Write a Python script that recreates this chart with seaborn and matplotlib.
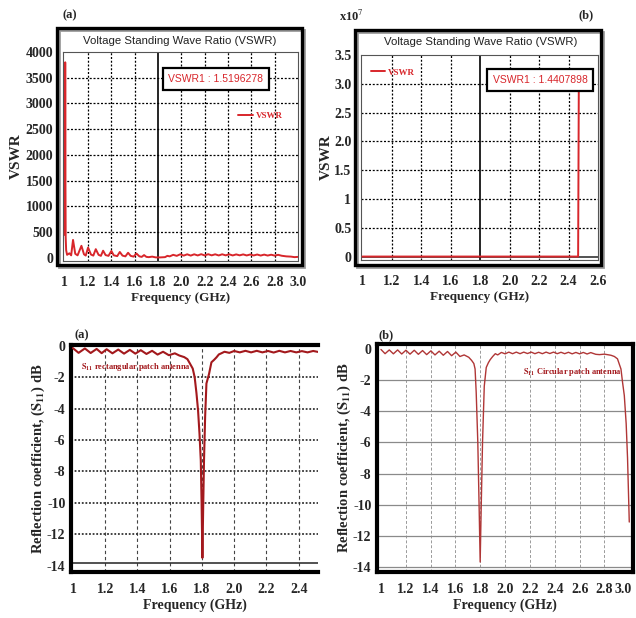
import matplotlib
matplotlib.use('Agg')
import matplotlib.pyplot as plt
import matplotlib.transforms as mtransforms
import seaborn as sns
from matplotlib.patches import Rectangle

# ---- data ----
# (a) VSWR, rectangular patch
freq_vswr_a = [1.000, 1.002, 1.004, 1.006, 1.008, 1.012, 1.020, 1.040, 1.055, 1.071, 1.090, 1.110,
               1.143, 1.165, 1.180, 1.200, 1.225, 1.245, 1.266, 1.290, 1.310, 1.329, 1.350, 1.375,
               1.400, 1.420, 1.450, 1.472, 1.495, 1.520, 1.543, 1.565, 1.590, 1.615, 1.640, 1.660,
               1.680, 1.700, 1.720, 1.750, 1.780, 1.820, 1.860, 1.880, 1.900, 1.930, 1.960, 1.990,
               2.020, 2.050, 2.080, 2.110, 2.140, 2.170, 2.200, 2.230, 2.260, 2.290, 2.320, 2.350,
               2.380, 2.410, 2.440, 2.470, 2.500, 2.530, 2.560, 2.590, 2.620, 2.650, 2.680, 2.710,
               2.740, 2.770, 2.800, 2.830, 2.860, 2.900, 2.940, 2.970, 3.000]
vswr_a = [450, 800, 3800, 1500, 400, 150, 60, 90, 50, 350, 80, 50,
          235, 70, 45, 200, 65, 45, 170, 60, 40, 140, 55, 40,
          135, 50, 35, 115, 45, 30, 100, 40, 25, 85, 30, 20,
          55, 20, 15, 25, 10, 10, 15, 40, 30, 60, 40, 70,
          45, 70, 45, 70, 48, 72, 48, 72, 50, 70, 48, 70,
          50, 70, 48, 68, 50, 68, 48, 66, 48, 66, 46, 64,
          46, 62, 45, 60, 42, 30, 25, 15, 20]

# (b) VSWR, circular patch (spike at 2.47 GHz)
freq_vswr_b = [1.0, 1.2, 1.4, 1.6, 1.8, 2.0, 2.2, 2.4, 2.465, 2.47]
vswr_b = [2.1, 1.8, 1.6, 1.9, 1.44, 1.7, 2.0, 2.6, 4.0, 3.2e7]

# (a) S11, rectangular patch
freq_s11_rect = [1.000, 1.035, 1.074, 1.110, 1.147, 1.178, 1.209, 1.245, 1.281, 1.317, 1.353,
                 1.387, 1.421, 1.456, 1.491, 1.525, 1.559, 1.595, 1.632, 1.660, 1.690, 1.710,
                 1.724, 1.743, 1.755, 1.766, 1.776, 1.785, 1.793, 1.798, 1.803, 1.808, 1.813,
                 1.820, 1.828, 1.844, 1.859, 1.875, 1.890, 1.905, 1.920, 1.940, 1.970, 2.000,
                 2.035, 2.070, 2.105, 2.140, 2.175, 2.210, 2.245, 2.280, 2.315, 2.350, 2.385,
                 2.420, 2.455, 2.490, 2.525]
s11_rect = [-0.15, -0.45, -0.17, -0.46, -0.20, -0.47, -0.22, -0.48, -0.24, -0.50, -0.26,
            -0.50, -0.28, -0.52, -0.32, -0.56, -0.38, -0.60, -0.48, -0.62, -0.72, -0.85,
            -1.10, -1.45, -2.0, -3.0, -4.1, -5.6, -7.3, -10.0, -13.5, -10.2, -7.3,
            -4.5, -2.4, -1.8, -1.05, -0.90, -0.74, -0.55, -0.48, -0.38, -0.45, -0.33,
            -0.42, -0.32, -0.42, -0.32, -0.42, -0.33, -0.43, -0.32, -0.42, -0.33, -0.42,
            -0.34, -0.42, -0.33, -0.40]

# (b) S11, circular patch
freq_s11_circ = [1.000, 1.033, 1.067, 1.100, 1.134, 1.167, 1.201, 1.234, 1.268, 1.301, 1.335,
                 1.368, 1.402, 1.435, 1.469, 1.502, 1.536, 1.569, 1.603, 1.636, 1.670, 1.707,
                 1.730, 1.748, 1.758, 1.767, 1.780, 1.791, 1.799, 1.807, 1.818, 1.832, 1.848,
                 1.865, 1.880, 1.900, 1.921, 1.940, 1.970, 2.000, 2.030, 2.060, 2.090, 2.120,
                 2.150, 2.180, 2.210, 2.240, 2.270, 2.300, 2.330, 2.360, 2.390, 2.420, 2.450,
                 2.480, 2.510, 2.540, 2.570, 2.600, 2.630, 2.660, 2.690, 2.730, 2.760, 2.800,
                 2.852, 2.880, 2.905, 2.920, 2.933, 2.945, 2.960, 2.975, 2.986, 3.000]
s11_circ = [-0.05, -0.32, -0.08, -0.33, -0.08, -0.34, -0.10, -0.35, -0.10, -0.36, -0.12,
            -0.38, -0.14, -0.40, -0.16, -0.42, -0.18, -0.45, -0.22, -0.50, -0.40, -0.55,
            -0.75, -0.95, -1.30, -2.8, -6.0, -10.3, -13.66, -10.3, -6.0, -2.4, -1.2,
            -0.90, -0.70, -0.50, -0.32, -0.40, -0.24, -0.33, -0.22, -0.32, -0.22, -0.32,
            -0.22, -0.31, -0.22, -0.32, -0.23, -0.32, -0.22, -0.31, -0.22, -0.32, -0.23,
            -0.32, -0.23, -0.33, -0.24, -0.33, -0.24, -0.34, -0.25, -0.36, -0.38, -0.35,
            -0.42, -0.50, -0.65, -1.0, -1.3, -2.1, -3.0, -4.8, -7.0, -11.1]

# ticks
xt_vswr_a = [1.0, 1.2, 1.4, 1.6, 1.8, 2.0, 2.2, 2.4, 2.6, 2.8, 3.0]
xl_vswr_a = ['1', '1.2', '1.4', '1.6', '1.8', '2.0', '2.2', '2.4', '2.6', '2.8', '3.0']
yt_vswr_a = [0, 500, 1000, 1500, 2000, 2500, 3000, 3500, 4000]
xt_vswr_b = [1.0, 1.2, 1.4, 1.6, 1.8, 2.0, 2.2, 2.4, 2.6]
xl_vswr_b = ['1', '1.2', '1.4', '1.6', '1.8', '2.0', '2.2', '2.4', '2.6']
yt_vswr_b = [0, 0.5e7, 1.0e7, 1.5e7, 2.0e7, 2.5e7, 3.0e7, 3.5e7]
yl_vswr_b = ['0', '0.5', '1', '1.5', '2.0', '2.5', '3.0', '3.5']
xt_s11_a = [1.0, 1.2, 1.4, 1.6, 1.8, 2.0, 2.2, 2.4]
xl_s11_a = ['1', '1.2', '1.4', '1.6', '1.8', '2.0', '2.2', '2.4']
xt_s11_b = [1.0, 1.2, 1.4, 1.6, 1.8, 2.0, 2.2, 2.4, 2.6, 2.8, 3.0]
xl_s11_b = ['1', '1.2', '1.4', '1.6', '1.8', '2.0', '2.2', '2.4', '2.6', '2.8', '3.0']
yt_s11 = [0, -2, -4, -6, -8, -10, -12, -14]

sns.set_style('white')
plt.rcParams['font.family'] = ['Liberation Serif', 'DejaVu Serif']
plt.rcParams['mathtext.fontset'] = 'stix'

W, H = 636, 618
RED = '#d8262b'
DARKRED = '#a3191d'
SERIF = 'Liberation Serif'
SANS = 'Liberation Sans'

fig = plt.figure(figsize=(W / 100, H / 100), dpi=100)
fig.patch.set_facecolor('white')


def px_axes(x0, y0, x1, y1):
    return fig.add_axes([x0 / W, 1 - y1 / H, (x1 - x0) / W, (y1 - y0) / H])


def ftext(x, y, s, **kw):
    fig.text(x / W, 1 - y / H, s, **kw)


def frame(x0, y0, x1, y1):
    fig.add_artist(Rectangle((x0 / W + 0.003, 1 - y1 / H - 0.004), (x1 - x0) / W, (y1 - y0) / H,
                             transform=fig.transFigure, fill=False, ec='#9a9a9a', lw=2.0))
    fig.add_artist(Rectangle((x0 / W, 1 - y1 / H), (x1 - x0) / W, (y1 - y0) / H,
                             transform=fig.transFigure, fill=False, ec='black', lw=2.4))


def style_ticks(ax, xt, xl, yt, yl, size, xpad, ypad):
    ax.set_xticks(xt)
    ax.set_xticklabels(xl)
    ax.set_yticks(yt)
    ax.set_yticklabels(yl)
    ax.tick_params(length=0, labelsize=size)
    ax.tick_params(axis='x', pad=xpad)
    ax.tick_params(axis='y', pad=ypad)
    for lab in ax.get_xticklabels() + ax.get_yticklabels():
        lab.set_fontweight('bold')
        lab.set_fontfamily(SERIF)


dotted = dict(color='black', lw=0.9, ls=(0, (1.6, 1.4)), zorder=1)

# ---------------- top left: VSWR (a) ----------------
frame(57, 28, 302, 265)
ax1 = px_axes(63, 52, 298, 261)
sns.lineplot(x=freq_vswr_a, y=vswr_a, ax=ax1, color=RED, lw=1.4, sort=False, estimator=None,
             label='VSWR', zorder=3)
ax1.set_xlim(0.985, 3.0)
ax1.set_ylim(-60, 4000)
for v in [1.2, 1.4, 1.6, 2.0, 2.2, 2.4, 2.6, 2.8]:
    ax1.axvline(v, **dotted)
for v in yt_vswr_a[1:-1]:
    ax1.axhline(v, **dotted)
ax1.axvline(1.8, color='black', lw=1.2, zorder=2)
style_ticks(ax1, xt_vswr_a, xl_vswr_a, yt_vswr_a, [str(v) for v in yt_vswr_a], 10, 11, 7)
for s in ax1.spines.values():
    s.set_color('#555555')
    s.set_linewidth(0.8)
ax1.set_xlabel('Frequency (GHz)', fontsize=9.5, fontweight='bold', labelpad=2)
ax1.set_ylabel('VSWR', fontsize=11, fontweight='bold', labelpad=2)
ax1.text(0.651, 0.871, 'VSWR1 : 1.5196278', transform=ax1.transAxes, ha='center', va='center',
         fontsize=7.5, color=RED, family=SANS, zorder=6,
         bbox=dict(boxstyle='square,pad=0.55', fc='white', ec='black', lw=1.6))
leg = ax1.legend(loc='center', bbox_to_anchor=(0.84, 0.695), frameon=False, handlelength=1.6,
                 handletextpad=0.3, prop={'family': SERIF, 'weight': 'bold', 'size': 6.5})
for t in leg.get_texts():
    t.set_color(RED)
ftext(180, 41, 'Voltage Standing Wave Ratio (VSWR)', ha='center', va='center', fontsize=8.2,
      family=SANS, color='#222222')
ftext(70, 15, '(a)', ha='center', va='center', fontsize=9, fontweight='bold')

# ---------------- top right: VSWR (b) ----------------
frame(355, 30, 601, 265)
ax2 = px_axes(361, 55, 598, 260)
ax2.axhline(0, color='#444444', lw=1.3, zorder=2)
sns.lineplot(x=freq_vswr_b, y=vswr_b, ax=ax2, color=RED, lw=1.4, sort=False, estimator=None,
             label='VSWR', zorder=3)
ax2.set_xlim(0.99, 2.6)
ax2.set_ylim(-0.06e7, 3.5e7)
for v in [1.2, 1.4, 1.6, 2.0, 2.2, 2.4]:
    ax2.axvline(v, **dotted)
for v in yt_vswr_b[1:-1]:
    ax2.axhline(v, **dotted)
ax2.axvline(1.8, color='black', lw=1.2, zorder=2)
style_ticks(ax2, xt_vswr_b, xl_vswr_b, yt_vswr_b, yl_vswr_b, 10, 11, 7)
for s in ax2.spines.values():
    s.set_color('#555555')
    s.set_linewidth(0.8)
ax2.set_xlabel('Frequency (GHz)', fontsize=9.5, fontweight='bold', labelpad=2)
ax2.set_ylabel('VSWR', fontsize=11, fontweight='bold', labelpad=1)
ax2.text(0.756, 0.878, 'VSWR1 : 1.4407898', transform=ax2.transAxes, ha='center', va='center',
         fontsize=7.5, color=RED, family=SANS, zorder=6,
         bbox=dict(boxstyle='square,pad=0.55', fc='white', ec='black', lw=1.6))
leg = ax2.legend(loc='center', bbox_to_anchor=(0.135, 0.915), frameon=False, handlelength=1.6,
                 handletextpad=0.3, prop={'family': SERIF, 'weight': 'bold', 'size': 6.5})
for t in leg.get_texts():
    t.set_color(RED)
ftext(481, 42, 'Voltage Standing Wave Ratio (VSWR)', ha='center', va='center', fontsize=8.2,
      family=SANS, color='#222222')
ftext(351, 16, 'x10$^{7}$', ha='center', va='center', fontsize=9, fontweight='bold')
ftext(586, 15, '(b)', ha='center', va='center', fontsize=9, fontweight='bold')

# ---------------- bottom left: S11 (a) ----------------
ax3 = px_axes(71, 345, 318, 572)
sns.lineplot(x=freq_s11_rect, y=s11_rect, ax=ax3, color=DARKRED, lw=1.5, sort=False,
             estimator=None, zorder=3)
ax3.set_xlim(0.988, 2.52)
ax3.set_ylim(-14.4, 0.05)
for v in [1.2, 1.4, 1.6, 1.8, 2.0, 2.2, 2.4]:
    ax3.axvline(v, color='#444444', lw=0.8, ls=(0, (3, 2.5)), zorder=1)
for v in [-2, -4, -6, -8, -10, -12]:
    ax3.axhline(v, color='#333333', lw=1.3, ls=(0, (1, 1)), zorder=1)
ax3.axhline(-13.8, color='#333333', lw=1.2, zorder=1)
style_ticks(ax3, xt_s11_a, xl_s11_a, yt_s11, [str(v) for v in yt_s11], 10, 8, 4)
for k, s in ax3.spines.items():
    s.set_color('black')
    s.set_linewidth(3)
ax3.spines['right'].set_visible(False)
ax3.set_xlabel('Frequency (GHz)', fontsize=10, fontweight='bold', labelpad=2)
ax3.set_ylabel(r'Reflection coefficient, ($\mathbf{S_{11}}$) dB', fontsize=10.5,
               fontweight='bold', labelpad=0)
ax3.text(0.04, 0.905, r'$\mathbf{S_{11}}$ rectangular patch antenna', transform=ax3.transAxes,
         fontsize=6, fontweight='bold', color=DARKRED, va='center')
ftext(82, 335, '(a)', ha='center', va='center', fontsize=9, fontweight='bold')

# ---------------- bottom right: S11 (b) ----------------
ax4 = px_axes(377, 344, 633, 572)
sns.lineplot(x=freq_s11_circ, y=s11_circ, ax=ax4, color='#b03636', lw=1.0, sort=False,
             estimator=None, zorder=3)
ax4.set_xlim(0.968, 3.03)
ax4.set_ylim(-14.3, 0.3)
for v in [1.2, 1.4, 1.6, 1.8, 2.0, 2.2, 2.4, 2.6, 2.8]:
    ax4.axvline(v, color='#9a9a9a', lw=0.7, ls=(0, (3, 2)), zorder=1)
for v in [-2, -4, -6, -8, -10, -12, -14]:
    ax4.axhline(v, color='#8a8a8a', lw=0.9, zorder=1)
style_ticks(ax4, xt_s11_b, xl_s11_b, yt_s11, [str(v) for v in yt_s11], 10, 8, 4)
for s in ax4.spines.values():
    s.set_color('black')
    s.set_linewidth(3)
# nudge the last tick label ("3.0") left so it stays inside the picture
last = ax4.get_xticklabels()[-1]
last.set_transform(last.get_transform() +
                   mtransforms.ScaledTranslation(-0.06, 0, fig.dpi_scale_trans))
ax4.set_xlabel('Frequency (GHz)', fontsize=10, fontweight='bold', labelpad=2)
ax4.set_ylabel(r'Reflection coefficient, ($\mathbf{S_{11}}$) dB', fontsize=10.5,
               fontweight='bold', labelpad=0)
ax4.text(0.955, 0.875, r'$\mathbf{S_{11}}$ Circular patch antenna', transform=ax4.transAxes,
         fontsize=6, fontweight='bold', color=DARKRED, va='center', ha='right')
ftext(386, 335, '(b)', ha='center', va='center', fontsize=9, fontweight='bold')

fig.savefig('out.png', dpi=100)
